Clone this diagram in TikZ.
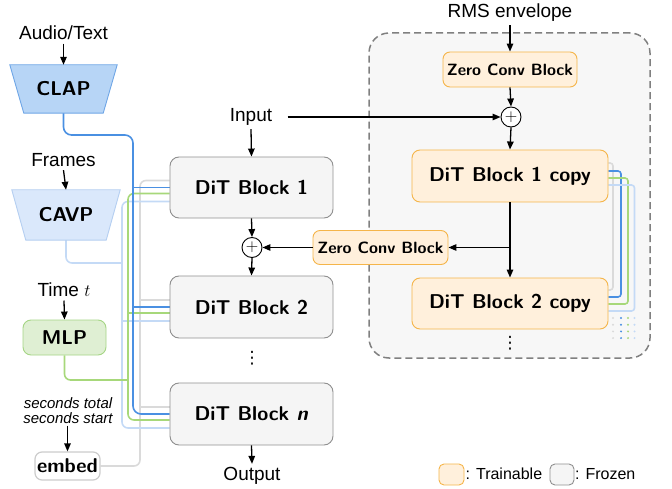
\documentclass[tikz,border=0pt]{standalone}
\usepackage{fontspec}
\setmainfont{Liberation Sans}
\newfontfamily\djv{DejaVu Sans}
\usetikzlibrary{arrows.meta,calc}
\pgfdeclarelayer{bottom}
\pgfdeclarelayer{lines}
\pgfsetlayers{bottom,lines,main}
\definecolor{cblue}{HTML}{4A90E2}
\definecolor{clblue}{HTML}{C4DAF6}
\definecolor{cgreen}{HTML}{A7D87A}
\definecolor{cgrayline}{HTML}{DADADA}
\definecolor{frozenfill}{HTML}{F5F5F5}
\definecolor{frozenline}{HTML}{8F8F8F}
\definecolor{trainfill}{HTML}{FFF0DC}
\definecolor{trainline}{HTML}{F5B54A}
\definecolor{clapfill}{HTML}{B7D5F6}
\definecolor{clapline}{HTML}{6FA6E6}
\definecolor{cavpfill}{HTML}{DAE8FB}
\definecolor{cavpline}{HTML}{B5CFF1}
\definecolor{mlpfill}{HTML}{DFEFD3}
\definecolor{mlpline}{HTML}{A5D585}
\definecolor{embedline}{HTML}{CCCCCC}
\definecolor{boxfill}{HTML}{F7F7F7}
\definecolor{boxline}{HTML}{808080}
\begin{document}
\begin{tikzpicture}[x=1pt,y=-1pt,
  frozen/.style={draw=frozenline, fill=frozenfill, rounded corners=9pt, line width=0.9pt, inner sep=0pt},
  trainable/.style={draw=trainline, fill=trainfill, rounded corners=8pt, line width=0.9pt, inner sep=0pt},
  blocklabel/.style={font=\sffamily\bfseries\fontsize{20}{24}\selectfont},
  smalllabel/.style={font=\sffamily\bfseries\fontsize{16.3}{19}\selectfont},
  plaintext/.style={font=\fontsize{19}{22}\selectfont},
  legtext/.style={font=\fontsize{16}{19}\selectfont, anchor=west, inner sep=0pt},
  vdotsnode/.style={font=\djv\fontsize{17}{17}\selectfont, inner sep=0pt},
  arr/.style={line width=1.3pt, -{Triangle[length=8pt,width=6.5pt]}},
  bus/.style={line width=1.6pt, rounded corners=6pt},
  dotbus/.style={line width=2.2pt, line cap=round, dash pattern=on 0pt off 6.7pt},
  oplus/.style={circle, draw, fill=white, line width=0.9pt, minimum size=20pt, inner sep=0pt, font=\fontsize{16}{16}\selectfont},
  shapebox/.style={inner sep=0pt, minimum width=#1}
]
\useasboundingbox (0,0) rectangle (672,489);

% container
\begin{pgfonlayer}{bottom}
\node[draw=boxline, fill=boxfill, line width=1.5pt, dash pattern=on 7pt off 4pt,
      rounded corners=20pt, minimum width=281pt, minimum height=325pt, inner sep=0pt] (ctrl) at (509.5,195.5) {};
\end{pgfonlayer}

% text inputs
\node[plaintext] (audio) at (63.5,33) {Audio/Text};
\node[plaintext] (frames) at (63.5,160) {Frames};
\node[plaintext] (time) at (64,290) {Time $t$};
\node[font=\itshape\fontsize{15}{15}\selectfont, align=center, inner sep=2pt] (secs) at (68,410.5) {seconds total\\seconds start};
\node[plaintext] (rms) at (510,13) {RMS envelope};
\node[plaintext] (input) at (251,117) {Input};
\node[plaintext] (output) at (252,476) {Output};

% encoders
\node[shapebox=107pt, minimum height=48pt] (clap) at (63.5,89) {};
\filldraw[fill=clapfill, draw=clapline, line width=0.9pt] (clap.north west) -- (clap.north east) -- ([xshift=-14pt]clap.south east) -- ([xshift=14pt]clap.south west) -- cycle;
\node[blocklabel] (claplabel) at (clap.center) {CLAP};

\node[shapebox=108pt, minimum height=50pt] (cavp) at (66,215) {};
\filldraw[fill=cavpfill, draw=cavpline, line width=0.9pt] (cavp.north west) -- (cavp.north east) -- ([xshift=-14pt]cavp.south east) -- ([xshift=14pt]cavp.south west) -- cycle;
\node[blocklabel] (cavplabel) at (cavp.center) {CAVP};

\node[draw=mlpline, fill=mlpfill, line width=0.9pt, rounded corners=8pt, inner sep=0pt,
      minimum width=83pt, minimum height=35pt, blocklabel] (mlp) at (64.5,337.5) {MLP};
\node[draw=embedline, fill=white, line width=1.2pt, rounded corners=7pt, inner sep=0pt,
      minimum width=65pt, minimum height=28pt, blocklabel] (embed) at (67.5,466) {embed};

% DiT blocks
\node[frozen, blocklabel, minimum width=163pt, minimum height=61pt] (b1) at (251.5,187.5) {DiT Block 1};
\node[frozen, blocklabel, minimum width=163pt, minimum height=62pt] (b2) at (251.5,307) {DiT Block 2};
\node[frozen, blocklabel, minimum width=163pt, minimum height=62pt] (bn) at (251.5,414) {DiT Block \textit{n}};
\node[vdotsnode] (vd1) at (252,358) {⋮};
\node[oplus] (plus2) at (252,247.5) {$+$};

% control branch
\node[trainable, smalllabel, rounded corners=7pt, minimum width=134pt, minimum height=35pt] (zc1) at (510,69.5) {Zero Conv Block};
\node[oplus] (plus1) at (511,117) {$+$};
\node[trainable, blocklabel, minimum width=196pt, minimum height=52pt] (c1) at (510,176) {DiT Block 1 copy};
\node[trainable, blocklabel, minimum width=196pt, minimum height=51pt] (c2) at (510,303.5) {DiT Block 2 copy};
\node[trainable, smalllabel, rounded corners=7pt, minimum width=135pt, minimum height=34pt] (zc2) at (380.5,247.5) {Zero Conv Block};
\node[vdotsnode] (vd2) at (510,343) {⋮};

% legend
\node[trainable, rounded corners=5pt, minimum width=25pt, minimum height=21pt] (legT) at (451.5,474.5) {};
\node[legtext] (legTt) at (465.5,474) {: Trainable};
\node[frozen, rounded corners=5pt, minimum width=24pt, minimum height=21pt] (legF) at (562,474.5) {};
\node[legtext] (legFt) at (575,474) {: Frozen};

% arrows
\draw[arr] (audio.south) -- (clap.north);
\draw[arr] (frames.south) -- (cavp.north);
\draw[arr] (time.south) -- (mlp.north);
\draw[arr] (secs.south -| embed.north) -- (embed.north);
\draw[arr] (rms.south) -- (zc1.north);
\draw[arr] (zc1.south) -- (plus1.north);
\draw[arr] (plus1.south) -- (c1.north);
\draw[arr] ([xshift=12pt]input.east) -- (plus1.west);
\draw[arr] (input.south) -- (b1.north);
\draw[arr] (b1.south) -- (plus2.north);
\draw[arr] (plus2.south) -- (b2.north);
\draw[arr] (zc2.west) -- (plus2.east);
\draw[arr] (c1.south) -- (c2.north);
\draw[arr] (c1.south |- zc2.east) -- (zc2.east);
\draw[arr] (bn.south) -- (output.north);

% bus coordinates
\coordinate (xg) at (140,0);
\coordinate (xb) at (133,0);
\coordinate (xgr) at (128,0);
\coordinate (xl) at (122,0);
\coordinate (bturn) at (133,135);
\coordinate (mlpj) at (128,380);
\coordinate (cavpj) at (122,263);
\foreach \b in {b1,b2,bn}{
  \coordinate (\b g) at ([yshift=7pt]\b.west);
  \coordinate (\b b) at (\b.west);
  \coordinate (\b r) at ([yshift=-6pt]\b.west);
  \coordinate (\b l) at ([yshift=-14pt]\b.west);
}
\coordinate (c1g) at ([yshift=13pt]c1.east);
\coordinate (c1b) at ([yshift=5pt]c1.east);
\coordinate (c1r) at ([yshift=-2pt]c1.east);
\coordinate (c1l) at ([yshift=-9pt]c1.east);
\coordinate (c2g) at ([yshift=13.5pt]c2.east);
\coordinate (c2b) at ([yshift=6.5pt]c2.east);
\coordinate (c2r) at ([yshift=-0.5pt]c2.east);
\coordinate (c2l) at ([yshift=-7.5pt]c2.east);
\coordinate (rg) at (613,0);
\coordinate (rb) at (621,0);
\coordinate (rr) at (628,0);
\coordinate (rl) at (634.5,0);
\coordinate (dtop) at (0,318);
\coordinate (dbot) at (0,339);

\begin{pgfonlayer}{lines}
% left buses
\draw[bus, cgrayline] (embed.east) -| (b1g -| xg) -- (b1g);
\draw[bus, cgrayline] (b2g -| xg) -- (b2g);
\draw[bus, cgrayline] (bng -| xg) -- (bng);
\draw[bus, clblue] (cavp.south) |- (cavpj);
\draw[bus, clblue] (b1l) -| (bnl -| xl) -- (bnl);
\draw[bus, clblue] (b2l -| xl) -- (b2l);
\draw[bus, cgreen] (mlp.south) |- (mlpj);
\draw[bus, cgreen] (b1r) -| (bnr -| xgr) -- (bnr);
\draw[bus, cgreen] (b2r -| xgr) -- (b2r);
\draw[bus, cblue, rounded corners=8pt] (clap.south) |- (bturn) -- (bnb -| bturn) -- (bnb);
\draw[bus, cblue] (b1b -| xb) -- (b1b);
\draw[bus, cblue] (b2b -| xb) -- (b2b);
% right buses
\draw[bus, cgrayline, rounded corners=3pt] (c1g) -| (c2g -| rg) -- (c2g);
\draw[bus, cblue, rounded corners=3pt] (c1b) -| (c2b -| rb) -- (c2b);
\draw[bus, cgreen, rounded corners=3pt] (c1r) -| (c2r -| rr) -- (c2r);
\draw[bus, clblue, rounded corners=3pt] (c1l) -| (c2l -| rl) -- (c2l);
\draw[dotbus, cgrayline] (dtop -| rg) -- (dbot -| rg);
\draw[dotbus, cblue] (dtop -| rb) -- (dbot -| rb);
\draw[dotbus, cgreen] (dtop -| rr) -- (dbot -| rr);
\draw[dotbus, clblue] (dtop -| rl) -- (dbot -| rl);
\end{pgfonlayer}
\end{tikzpicture}
\end{document}
